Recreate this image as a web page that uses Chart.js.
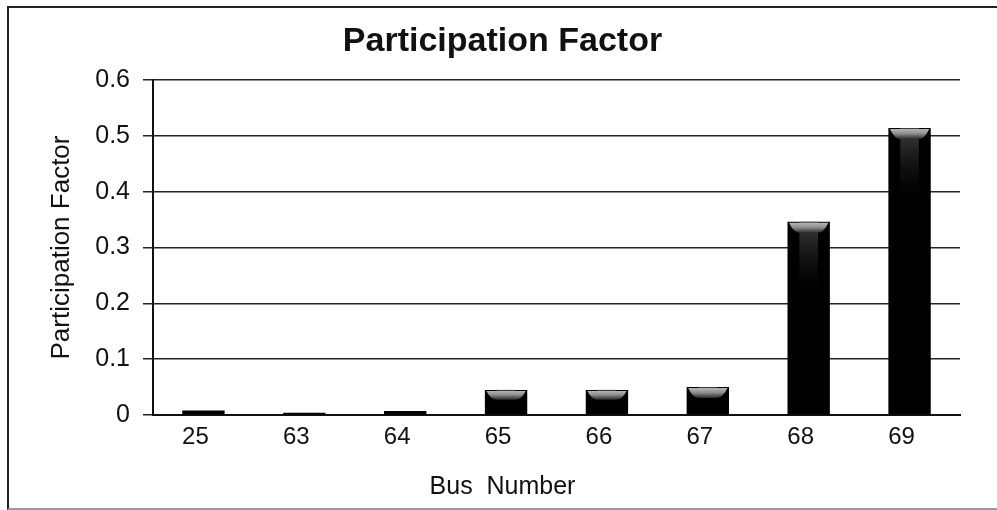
<!DOCTYPE html>
<html>
<head>
<meta charset="utf-8">
<script src="https://cdn.jsdelivr.net/npm/chart.js@4"></script>
<style>
  html, body { margin: 0; padding: 0; background: #fff; }
  #wrap { position: relative; width: 997px; height: 510px; overflow: hidden; }
  #frame {
    position: absolute; left: 7px; top: 6px; width: 1010px; height: 500px;
    border-top: 2px solid #222; border-left: 2px solid #222; border-bottom: 2px solid #9a9a9a;
    pointer-events: none;
  }
</style>
</head>
<body>
<div id="wrap">
  <canvas id="chart" width="997" height="510"></canvas>
  <div id="frame"></div>
</div>
<script>
// Bus numbers and their participation factors
const busNumbers = ['25', '63', '64', '65', '66', '67', '68', '69'];
const participation = [0.008, 0.004, 0.007, 0.045, 0.045, 0.05, 0.346, 0.514];
const yTickLabels = ['0', '0.1', '0.2', '0.3', '0.4', '0.5', '0.6'];

const FONT = 'Liberation Sans, Arial, sans-serif';

// Glossy cap on top of each bar, placed from the bar element geometry
const barGloss = {
  id: 'barGloss',
  afterDatasetsDraw(chart) {
    const ctx = chart.ctx;
    chart.getDatasetMeta(0).data.forEach(bar => {
      const h = bar.base - bar.y;
      if (h < 10) return;
      const left = bar.x - bar.width / 2, right = bar.x + bar.width / 2;
      // soft dark-grey glow fading down the bar
      const glowH = Math.min(h * 0.45, 80);
      const g1 = ctx.createLinearGradient(0, bar.y, 0, bar.y + glowH);
      g1.addColorStop(0, 'rgba(70,70,70,0.9)');
      g1.addColorStop(1, 'rgba(0,0,0,0)');
      ctx.save();
      ctx.fillStyle = g1;
      ctx.fillRect(bar.x - bar.width * 0.22, bar.y, bar.width * 0.44, glowH);
      // light trapezoid cap
      const capH = Math.min(11, h * 0.4);
      const g2 = ctx.createLinearGradient(0, bar.y, 0, bar.y + capH);
      g2.addColorStop(0, '#bdbdbd');
      g2.addColorStop(0.5, '#8f8f8f');
      g2.addColorStop(1, '#2a2a2a');
      ctx.fillStyle = g2;
      ctx.beginPath();
      ctx.moveTo(left + 1.5, bar.y + 1);
      ctx.lineTo(right - 1.5, bar.y + 1);
      ctx.quadraticCurveTo(right - 6, bar.y + capH, right - 12, bar.y + capH);
      ctx.lineTo(left + 12, bar.y + capH);
      ctx.quadraticCurveTo(left + 6, bar.y + capH, left + 1.5, bar.y + 1);
      ctx.closePath();
      ctx.fill();
      ctx.restore();
    });
  }
};

new Chart(document.getElementById('chart'), {
  type: 'bar',
  data: {
    labels: busNumbers,
    datasets: [{
      data: participation,
      backgroundColor: '#000',
      borderWidth: 0,
      categoryPercentage: 1,
      barPercentage: 0.42
    }]
  },
  plugins: [barGloss],
  options: {
    responsive: false,
    animation: false,
    layout: { padding: { top: 0, right: 0, bottom: 0, left: 8 } },
    plugins: {
      legend: { display: false },
      tooltip: { enabled: false },
      title: {
        display: true,
        text: 'Participation Factor',
        color: '#111',
        font: { family: FONT, size: 34, weight: 'bold' },
        padding: { top: 21, bottom: 18.2 }
      },
      // axis caption under the category labels
      subtitle: {
        display: true,
        position: 'bottom',
        text: 'Bus  Number',
        color: '#111',
        font: { family: FONT, size: 25 },
        padding: { top: 0, bottom: 8 }
      }
    },
    scales: {
      x: {
        grid: { display: false, drawTicks: false },
        border: { display: true, color: '#111', width: 2 },
        ticks: {
          color: '#111',
          padding: 8,
          labelOffset: -8,
          font: { family: FONT, size: 24 }
        },
        afterFit(scale) { scale.height = 57; }
      },
      y: {
        min: 0,
        max: 0.6,
        grid: { color: '#222', lineWidth: 1.5, drawTicks: true, tickLength: 10 },
        border: { display: true, color: '#111', width: 2 },
        ticks: {
          stepSize: 0.1,
          color: '#111',
          padding: 13,
          font: { family: FONT, size: 25 },
          callback: (v, i) => yTickLabels[i]
        },
        title: {
          display: true,
          text: 'Participation Factor',
          color: '#111',
          font: { family: FONT, size: 26 },
          padding: { top: 38, bottom: 0 }
        },
        afterFit(scale) { scale.width = 145; }
      },
      // empty right-hand margin beside the plot
      yRight: {
        position: 'right',
        display: true,
        min: 0,
        max: 0.6,
        grid: { display: false, drawTicks: false },
        border: { display: false },
        ticks: { display: false },
        afterFit(scale) { scale.width = 37; }
      }
    }
  }
});
</script>
</body>
</html>
